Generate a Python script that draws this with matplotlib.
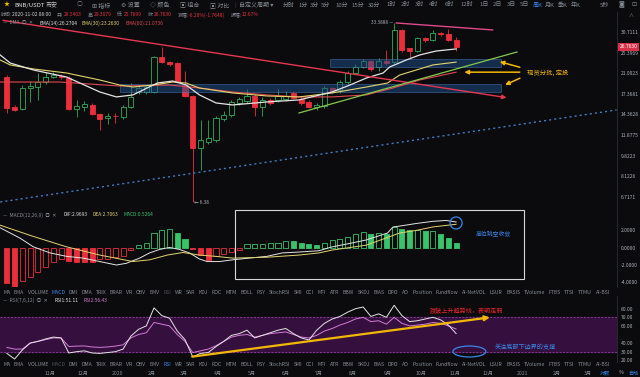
"""BNB/USDT weekly chart with EMA, MACD and RSI panels (dark exchange style)."""

import numpy as np
import pandas as pd
import matplotlib
matplotlib.use('Agg')
import matplotlib.pyplot as plt
import matplotlib.dates as mdates
from matplotlib.patches import Rectangle, Ellipse
from matplotlib.ticker import NullLocator, NullFormatter

plt.rcParams['font.family'] = ['Noto Sans CJK SC', 'DejaVu Sans']

# ---------------- data ----------------
first_week = '2019-09-23'
opens = [20.27, 15.38, 15.10, 18.32, 18.50, 19.36, 20.27, 20.46, 20.09, 15.10,
         15.38, 15.67, 14.42, 13.90, 14.16, 14.03, 15.38, 17.66, 17.66, 17.66,
         24.39, 23.29, 23.08, 18.83, 17.02, 10.55, 11.15, 11.35, 13.77, 14.29,
         15.96, 16.26, 17.02, 15.38, 16.41, 16.41, 16.56, 17.50, 16.56, 16.11,
         15.38, 15.53, 18.32, 17.98, 19.36, 21.04, 22.24, 23.51, 22.24, 23.51,
         23.29, 31.29, 26.50, 25.77, 29.06, 28.52, 30.43, 30.15, 28.5403]
highs = [20.65, 15.60, 18.80, 19.50, 21.00, 21.20, 21.20, 20.80, 20.40, 16.40,
         16.30, 15.90, 14.60, 14.60, 14.50, 15.60, 19.20, 18.70, 18.90, 24.60,
         26.80, 23.60, 23.30, 21.40, 17.20, 13.65, 13.60, 14.10, 14.80, 16.40,
         16.90, 18.10, 17.40, 16.80, 16.70, 18.10, 17.80, 17.80, 16.80, 16.40,
         16.00, 18.60, 18.50, 19.80, 21.50, 22.80, 24.00, 23.80, 24.20, 26.00,
         33.3888, 31.50, 26.60, 29.40, 29.30, 31.30, 30.60, 31.60, 29.3079]
lows = [14.50, 14.80, 14.90, 16.10, 16.40, 19.00, 20.00, 19.90, 14.90, 14.00,
        14.80, 14.30, 12.44, 13.20, 13.30, 13.80, 15.20, 17.30, 17.40, 17.50,
        23.00, 22.50, 19.10, 16.80, 6.38, 8.61, 10.90, 11.10, 13.50, 14.00,
        15.60, 16.00, 14.10, 14.20, 15.70, 16.10, 16.30, 16.50, 15.70, 15.20,
        15.00, 15.30, 17.50, 17.50, 19.00, 20.80, 22.00, 21.40, 21.50, 22.60,
        22.80, 25.50, 24.00, 25.50, 28.00, 28.20, 29.60, 28.20, 25.7699]
closes = [15.24, 14.96, 18.32, 18.66, 19.36, 20.27, 20.65, 20.27, 15.10, 15.53,
          15.81, 14.42, 13.77, 14.16, 14.10, 15.38, 16.87, 18.32, 18.49, 24.39,
          23.29, 22.87, 19.36, 17.02, 10.55, 11.35, 11.56, 13.90, 14.29, 16.11,
          16.56, 17.02, 15.38, 16.41, 15.96, 17.02, 17.02, 16.71, 15.96, 15.38,
          15.67, 18.32, 17.82, 19.36, 21.04, 22.24, 23.51, 21.84, 23.51, 23.08,
          31.29, 26.01, 25.77, 29.06, 28.52, 30.43, 30.15, 28.52, 26.7630]
info_time = '2020-11-02 08:00'
info_change = '-6.20%(-1.7648)'
info_amplitude = '12.67%'

ema14_dates = ['2019-09-17', '2019-09-26', '2019-10-17', '2019-11-16', '2019-12-16',
               '2019-12-31', '2020-01-15', '2020-01-24', '2020-02-06', '2020-02-20',
               '2020-03-03', '2020-03-15', '2020-03-30', '2020-04-14', '2020-05-15',
               '2020-06-13', '2020-07-13', '2020-07-29', '2020-08-13', '2020-08-28',
               '2020-09-03', '2020-09-18', '2020-09-30', '2020-10-15', '2020-11-02']
ema14_vals = [24.84, 23.07, 21.63, 20.27, 17.66, 16.87, 17.19, 17.98, 19.18, 19.54,
              18.83, 17.19, 15.96, 15.67, 16.11, 16.41, 17.66, 18.83, 20.09, 21.04,
              22.24, 23.72, 24.84, 25.77, 26.27]
ema30_dates = ['2019-09-17', '2019-09-26', '2019-10-17', '2019-11-16', '2019-12-16',
               '2020-01-03', '2020-01-15', '2020-02-02', '2020-02-20', '2020-03-03',
               '2020-03-15', '2020-04-14', '2020-05-15', '2020-06-13', '2020-07-13',
               '2020-08-13', '2020-09-01', '2020-09-12', '2020-09-27', '2020-10-12',
               '2020-11-02']
ema30_vals = [23.72, 22.66, 21.84, 21.04, 19.72, 18.83, 18.49, 18.83, 19.36, 19.18,
              18.32, 17.50, 17.02, 16.87, 17.50, 18.49, 19.18, 20.65, 21.63, 22.66,
              23.26]
ema60_dates = ['2019-09-17', '2019-11-10', '2020-01-03', '2020-02-17', '2020-03-15',
               '2020-04-14', '2020-05-15', '2020-06-13', '2020-07-13', '2020-08-13',
               '2020-09-06', '2020-09-30', '2020-11-02']
ema60_vals = [19.36, 19.36, 18.66, 18.83, 18.32, 17.66, 17.19, 16.87, 16.87, 17.19,
              18.32, 19.72, 21.20]
ema_labels = ['EMA(14):26.2704', 'EMA(30):23.2630', 'EMA(60):21.0736']

macd_hist = [-4.1, -4.5, -3.9, -3.4, -2.8, -2.2, -1.7, -1.3, -1.5, -1.6,
             -1.65, -1.7, -1.3, -1.25, -1.1, -0.9, -0.3, 0.35, 0.6, 1.7,
             2.0, 2.2, 1.7, 1.0, -0.2, -0.85, -1.4, -1.0, -0.75, -0.5,
             -0.25, 0.4, 0.42, 0.45, 0.5, 0.6, 0.82, 0.78, 0.6, 0.45,
             0.35, 0.6, 0.85, 1.0, 1.2, 1.6, 1.8, 1.6, 1.65, 1.55,
             2.4, 2.2, 2.0, 2.05, 1.9, 1.95, 1.6, 1.1, 0.53]
dif_dates = ['2019-09-17', '2019-10-05', '2019-10-17', '2019-11-01', '2019-11-16',
             '2019-12-01', '2019-12-16', '2019-12-31', '2020-01-09', '2020-01-21',
             '2020-01-30', '2020-02-08', '2020-02-17', '2020-02-26', '2020-03-06',
             '2020-03-15', '2020-03-22', '2020-04-02', '2020-04-14', '2020-04-29',
             '2020-05-15', '2020-05-29', '2020-06-13', '2020-07-01', '2020-07-13',
             '2020-07-29', '2020-08-13', '2020-09-01', '2020-09-06', '2020-09-12',
             '2020-09-27', '2020-10-12', '2020-10-24', '2020-11-02']
dif_vals = [2.3, 1.1, 0.1, -0.6, -1.0, -1.2, -1.6, -2.0, -1.8, -1.2,
            -0.6, -0.2, 0.03, -0.2, -0.6, -1.3, -1.6, -1.6, -1.4, -1.2,
            -1.0, -0.6, -0.5, -0.35, 0.1, 0.5, 0.9, 1.7, 2.4, 2.5,
            2.8, 3.05, 3.15, 2.97]
dea_dates = ['2019-09-17', '2019-10-17', '2019-11-16', '2019-12-16', '2020-01-15',
             '2020-01-30', '2020-02-15', '2020-02-29', '2020-03-15', '2020-03-30',
             '2020-04-14', '2020-05-15', '2020-06-13', '2020-07-01', '2020-07-13',
             '2020-08-13', '2020-09-12', '2020-09-27', '2020-10-12', '2020-11-02']
dea_vals = [2.6, 1.3, 0.1, -0.85, -1.6, -1.4, -0.85, -0.55, -0.85, -1.0,
            -1.2, -1.1, -0.85, -0.6, -0.27, 0.3, 1.7, 2.0, 2.4, 2.71]
macd_labels = ['DIF:2.9693', 'DEA:2.7063', 'MACD:0.5264']

rsi1 = [28, 21.5, 32, 40, 42, 44.8, 47, 46, 28.5, 30,
        31, 28.5, 28, 29, 30, 33, 48, 56, 60, 81,
        72, 69, 54, 44, 24, 28, 29, 36, 42, 49,
        51, 55, 46, 49, 52, 55, 57, 51, 46, 43.6,
        55, 63, 68, 71, 76, 80, 82, 71, 74, 70,
        84, 72, 65, 66, 68, 70, 67, 61, 51.11]
rsi2 = [35, 33, 33, 40, 42, 44, 46, 46, 36, 36.5,
        36.7, 35.5, 35, 35.5, 36.5, 38, 46, 50, 52, 64,
        62, 60, 50, 42, 29, 31, 33, 37, 42, 47,
        49, 50, 47, 49, 51, 52, 53, 50, 47, 46,
        49, 54, 57, 61, 64, 68, 70, 65, 66, 62,
        70, 63, 60, 61, 62, 64, 63, 60, 56.43]
rsi_labels = ['RSI1:51.11', 'RSI2:56.43']

price_ticks = [30.7111, 25.3969, 21.0023, 17.3681, 14.3628, 11.8775, 9.8223, 8.1226, 6.7171]
macd_ticks = [2, 0, -2, -4]
rsi_ticks = [80, 70, 60, 40, 30, 20]
month_starts = pd.date_range('2019-11-01', '2021-03-01', freq='MS')
month_labels = ['11月', '12月', '2020', '2月', '3月', '4月', '5月', '6月', '7月', '8月',
                '9月', '10月', '11月', '12月', '2021', '2月', '3月']

# hand-drawn annotations (dates, prices / indicator values)
resist_dates, resist_prices = ['2019-09-17', '2020-12-20'], [34.31, 16.70]
top_dates, top_prices = ['2020-09-09', '2020-12-05'], [33.37, 31.30]
support_dates, support_prices = ['2020-06-13', '2020-12-27'], [14.55, 25.54]
long_dates, long_prices = ['2019-09-17', '2021-03-27'], [6.40, 14.96]
zone_upper = (['2020-07-11', '2020-12-13'], [22.24, 23.94])
zone_lower = (['2020-01-03', '2020-12-13'], [17.66, 19.01])
buy_tail_dates, buy_tail_prices = ['2021-01-01', '2021-01-01', '2021-01-01'], [22.03, 21.20, 20.27]
buy_head_dates, buy_head_prices = ['2020-12-09', '2020-11-07', '2020-12-14'], [23.51, 21.20, 18.66]
buy_note = ('2021-01-05', 21.20, '现货分批, 定投')
macd_box = (['2020-04-16', '2021-01-02'], [-3.62, 4.36])
macd_mark = ('2020-11-02', 2.86)
macd_note = ('2020-11-20', 1.6, '高位跳空收敛')
rsi_trend_dates, rsi_trend_vals = ['2020-03-06', '2020-12-05'], [23.8, 70.3]
rsi_note = ('2020-10-09', 77.3, '跌破上升趋势线，表明走弱')
rsi_ring = ('2020-11-14', 30.2, 29.8, 12.8)
rsi_note2 = ('2020-12-07', 35.5, '关注底部下边界的支撑')

tabs = ['MA', 'EMA', 'VOLUME', 'MACD', 'DMI', 'DMA', 'TRIX', 'BRAR', 'VR', 'OBV', 'EMV',
        'RSI', 'WR', 'SAR', 'KDJ', 'ROC', 'MTM', 'BOLL', 'PSY', 'StochRSI', 'SMI', 'CCI',
        'MFI', 'ATR', 'BBW', 'SKDJ', 'BIAS', 'DPO', 'AO', 'Position', 'Fundflow',
        'AI-NetVOL', 'LSUR', 'BASIS', 'TVolume', 'FTBS', 'TTSI', 'TTMU', 'AI-BSI']

# ---------------- style ----------------
BG = '#0b0b0e'
RED = '#ea2e3b'
GREEN = '#2fae57'
MGREEN = '#37c46b'
GRAY = '#858b94'
TICK = '#aab0b8'
BLUE = '#3a86e8'
WHITE = '#e4e4e4'
YEL = '#e3d46c'
PINK = '#d67bd6'
ORANGE = '#f2b705'

opens, highs, lows, closes = map(np.array, (opens, highs, lows, closes))
xd = mdates.date2num(pd.date_range(first_week, periods=len(closes), freq='7D'))


def dn(d):
    return mdates.date2num(pd.to_datetime(d))


def fx(px):
    return px / 640


def fy(py):
    return 1 - py / 377


fig = plt.figure(figsize=(6.4, 3.77), dpi=100, facecolor=BG)
ax = fig.add_axes([0, fy(207), fx(617), 195 / 377])
axm = fig.add_axes([0, fy(287), fx(617), 79 / 377], sharex=ax)
axr = fig.add_axes([0, fy(362), fx(617), 66 / 377], sharex=ax)

for a in (ax, axm, axr):
    a.set_facecolor(BG)
    for s in ('top', 'left', 'bottom'):
        a.spines[s].set_visible(False)
    a.spines['right'].set_color('#2a2d33')
    a.spines['right'].set_linewidth(0.6)
    a.yaxis.tick_right()
    a.tick_params(axis='y', length=0, pad=2.5, labelsize=3.6, colors=TICK)
    a.tick_params(axis='x', length=0)

# ---------------- main price panel ----------------
ax.set_yscale('log')
ax.set_xlim(dn('2019-11-01') - 45.2, dn('2019-11-01') + 512.4)
ax.set_ylim(6.112, 36.93)
ax.yaxis.set_minor_locator(NullLocator())
ax.yaxis.set_minor_formatter(NullFormatter())
ax.set_yticks(price_ticks)
ax.set_yticklabels([f'{v:.4f}' for v in price_ticks])
ax.tick_params(labelbottom=False)

up = closes >= opens
edge = [GREEN if u else RED for u in up]
face = [BG if u else RED for u in up]
ax.vlines(xd, lows, highs, colors=edge, lw=0.6, zorder=2)
ax.bar(xd, np.maximum(np.abs(closes - opens), 0.06), bottom=np.minimum(opens, closes),
       width=4.6, color=face, edgecolor=edge, lw=0.6, zorder=3)

for (dts, prs) in (zone_upper, zone_lower):
    x0, x1 = dn(dts[0]), dn(dts[1])
    ax.add_patch(Rectangle((x0, prs[0]), x1 - x0, prs[1] - prs[0], facecolor='#1f4f8c',
                           alpha=0.5, edgecolor='#4f86c6', lw=0.6, zorder=4))

ax.plot(dn(ema60_dates), ema60_vals, color='#e0474f', lw=0.8, zorder=5)
ax.plot(dn(ema30_dates), ema30_vals, color=YEL, lw=0.8, zorder=5)
ax.plot(dn(ema14_dates), ema14_vals, color=WHITE, lw=0.9, zorder=5)

ax.annotate('', xy=(dn(resist_dates[1]), resist_prices[1]),
            xytext=(dn(resist_dates[0]), resist_prices[0]),
            arrowprops=dict(arrowstyle='-|>', color='#e8364f', lw=1.0, mutation_scale=6), zorder=6)
ax.plot(dn(top_dates), top_prices, color='#e04a8a', lw=1.0, zorder=6)
ax.plot(dn(support_dates), support_prices, color='#86c94e', lw=0.9, zorder=6)
ax.plot(dn(long_dates), long_prices, color='#3f7cc4', lw=1.0, ls=(0, (1.5, 2.2)), zorder=6)

for td, tp, hd, hp in zip(buy_tail_dates, buy_tail_prices, buy_head_dates, buy_head_prices):
    ax.annotate('', xy=(dn(hd), hp), xytext=(dn(td), tp),
                arrowprops=dict(arrowstyle='-|>', color=ORANGE, lw=1.1, mutation_scale=6), zorder=7)
ax.text(dn(buy_note[0]), buy_note[1], buy_note[2], color=ORANGE, fontsize=4.6,
        va='center', ha='left', zorder=7)

hi = int(np.argmax(highs))
lo = int(np.argmin(lows))
ax.annotate(f'{highs[hi]:.4f} —', xy=(xd[hi], highs[hi]), xytext=(-1, 0.5),
            textcoords='offset points', ha='right', va='center', fontsize=3.4, color=TICK)
ax.annotate(f'← {lows[lo]:.2f}', xy=(xd[lo], lows[lo]), xytext=(1, 0),
            textcoords='offset points', ha='left', va='center', fontsize=3.4, color=TICK)

ax.text(1.004, closes[-1], f'{closes[-1]:.4f}', transform=ax.get_yaxis_transform(),
        fontsize=3.6, color='white', va='center', ha='left', clip_on=False,
        bbox=dict(boxstyle='square,pad=0.25', fc='#d9304a', ec='none'))

# ---------------- MACD panel ----------------
axm.set_ylim(-4.54, 4.59)
axm.set_yticks(macd_ticks)
axm.set_yticklabels([f'{v:.4f}' for v in macd_ticks])
axm.tick_params(labelbottom=False)
hist = np.array(macd_hist)
rising = np.r_[False, np.diff(hist) > 0]
hcol = [MGREEN if v >= 0 else RED for v in hist]
hface = [BG if r else c for r, c in zip(rising, hcol)]
axm.bar(xd, hist, width=4.6, color=hface, edgecolor=hcol, lw=0.6, zorder=3)
axm.plot(dn(dif_dates), dif_vals, color=WHITE, lw=0.7, zorder=4)
axm.plot(dn(dea_dates), dea_vals, color=YEL, lw=0.7, zorder=4)
bx0, bx1 = dn(macd_box[0][0]), dn(macd_box[0][1])
axm.add_patch(Rectangle((bx0, macd_box[1][0]), bx1 - bx0, macd_box[1][1] - macd_box[1][0],
                        fill=False, edgecolor='#d6d6d6', lw=0.8, zorder=5))
axm.scatter([dn(macd_mark[0])], [macd_mark[1]], s=75, facecolors='none',
            edgecolors=BLUE, lw=0.9, zorder=6)
axm.text(dn(macd_note[0]), macd_note[1], macd_note[2], color=BLUE, fontsize=4.2,
         va='center', ha='left')

# ---------------- RSI panel ----------------
axr.set_ylim(18.0, 94.8)
axr.set_yticks(rsi_ticks)
axr.set_yticklabels([f'{v:.2f}' for v in rsi_ticks])
axr.axhspan(30, 70, color='#35103f', zorder=0)
for lvl in (70, 30):
    axr.axhline(lvl, color='#9c4aa6', lw=0.5, ls=(0, (3, 2)), zorder=1)
axr.plot(xd, rsi2, color=PINK, lw=0.7, zorder=3)
axr.plot(xd, rsi1, color=WHITE, lw=0.7, zorder=4)
axr.annotate('', xy=(dn(rsi_trend_dates[1]), rsi_trend_vals[1]),
             xytext=(dn(rsi_trend_dates[0]), rsi_trend_vals[0]),
             arrowprops=dict(arrowstyle='-|>', color=ORANGE, lw=1.6, mutation_scale=7), zorder=5)
axr.text(dn(rsi_note[0]), rsi_note[1], rsi_note[2], color='#e8222a', fontsize=4.4,
         va='center', ha='left', zorder=6)
axr.add_patch(Ellipse((dn(rsi_ring[0]), rsi_ring[1]), rsi_ring[2], rsi_ring[3],
                      fill=False, edgecolor=BLUE, lw=0.9, zorder=6))
axr.text(dn(rsi_note2[0]), rsi_note2[1], rsi_note2[2], color=BLUE, fontsize=4.4,
         va='center', ha='left', zorder=6)
axr.set_xticks(mdates.date2num(month_starts))
axr.set_xticklabels(month_labels)
axr.tick_params(axis='x', labelsize=3.7, colors=GRAY, pad=6.5)

# ---------------- header texts ----------------
renderer = fig.canvas.get_renderer()


def seq_text(x, y, pieces, size):
    for s, c, gap in pieces:
        t = fig.text(fx(x), fy(y), s, color=c, fontsize=size, va='center', ha='left')
        x += t.get_window_extent(renderer).width + gap


def tab_row(y, active, dim):
    texts = []
    for w in tabs:
        c = BLUE if w == active else ('#4a4f57' if w == dim else GRAY)
        texts.append(fig.text(0, fy(y), w, color=c, fontsize=3.7, va='center', ha='left'))
    widths = [t.get_window_extent(renderer).width for t in texts]
    gap = (607 - sum(widths)) / (len(tabs) - 1)
    x = 3
    for t, w in zip(texts, widths):
        t.set_x(fx(x))
        x += w + gap


# toolbar
bar_items = [(4, '★', '#f0b90b'), (14, 'BNB/USDT', '#e8e8e8'), (46, '币安', '#c4c4c4'),
             (77, '○', GRAY), (92, '⊞ 指标', GRAY), (121, '⚙ 设置', GRAY),
             (150, '◇ 颜色', GRAY), (180, '▣ 组合', GRAY), (210, '▣ 对比', GRAY),
             (234, '|', '#3a3d44'), (239, '自定义周期 ▾', GRAY), (283, '分时', GRAY),
             (298, '1分', GRAY), (310, '3分', GRAY), (321, '5分', GRAY), (335, '10分', GRAY),
             (351, '15分', GRAY), (368, '30分', GRAY), (386, '1时', GRAY), (401, '2时', GRAY),
             (415, '3时', GRAY), (429, '4时', GRAY), (445, '6时', GRAY), (460, '12时', GRAY),
             (479, '1日', GRAY), (493, '2日', GRAY), (507, '3日', GRAY), (520, '5日', GRAY),
             (533, '周K', BLUE), (545, '月K', GRAY), (558, '季K', GRAY), (571, '年K', GRAY),
             (600, '5秒', GRAY), (618, '◙', GRAY), (631, '⊡', GRAY)]
for x, s, c in bar_items:
    fig.text(fx(x), fy(5), s, color=c, fontsize=4.3, va='center', ha='left')
fig.text(fx(628), fy(15), '∧', color=GRAY, fontsize=3.6, va='center', ha='left')

info = [('时间:', GRAY, 0), (info_time, '#d4d4d4', 6),
        ('开:', GRAY, 0), (f'{opens[-1]:.4f}', RED, 6),
        ('高:', GRAY, 0), (f'{highs[-1]:.4f}', RED, 6),
        ('低:', GRAY, 0), (f'{lows[-1]:.4f}', RED, 6),
        ('收:', GRAY, 0), (f'{closes[-1]:.4f}', RED, 6),
        ('涨幅:', GRAY, 0), (info_change, RED, 6),
        ('振幅:', GRAY, 0), (info_amplitude, RED, 0)]
seq_text(1, 15, info, 3.5)
seq_text(3, 23, [('—  EMA  ◎  ✕', GRAY, 6), (ema_labels[0], WHITE, 5),
                 (ema_labels[1], YEL, 5), (ema_labels[2], '#e0474f', 0)], 3.5)
seq_text(3, 215, [('—  MACD(12,26,9)  ◎  ✕', GRAY, 7), (macd_labels[0], WHITE, 5),
                  (macd_labels[1], YEL, 5), (macd_labels[2], MGREEN, 0)], 3.5)
seq_text(3, 300, [('—  RSI(7,6,12)  ◎  ✕', GRAY, 7), (rsi_labels[0], WHITE, 5),
                  (rsi_labels[1], PINK, 0)], 3.5)
tab_row(293, 'MACD', 'RSI')
tab_row(365, 'RSI', 'MACD')
for x, s, c in [(600, '对数', BLUE), (619, '%', TICK), (628, '自动', BLUE)]:
    fig.text(fx(x), fy(373), s, color=c, fontsize=3.7, va='center', ha='left')

fig.savefig('out.png', dpi=100, facecolor=BG)
